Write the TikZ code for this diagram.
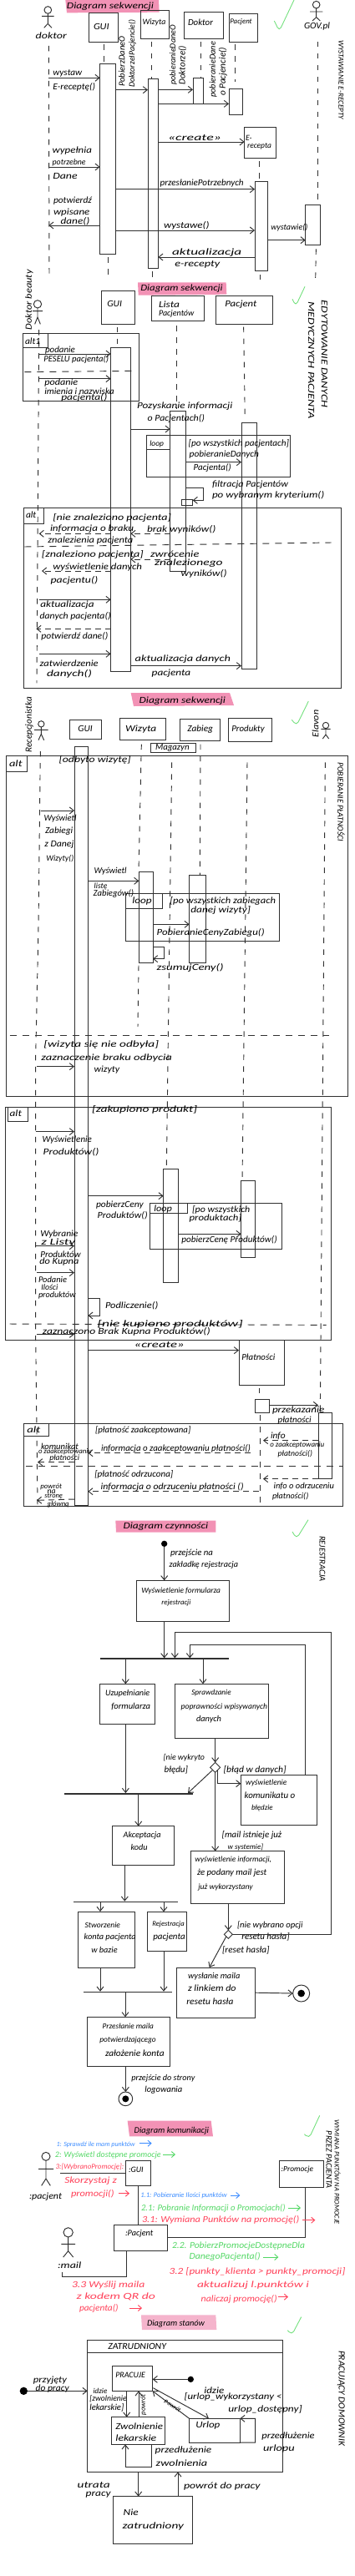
\documentclass[tikz,border=0pt]{standalone}
\usepackage{graphicx}
\usepackage{fontspec}
\setmainfont{Carlito}
\usetikzlibrary{arrows.meta,shapes.geometric}
\definecolor{lc}{HTML}{303030}
\definecolor{pinkhl}{HTML}{F292B5}
\definecolor{pinklt}{HTML}{F5B4CC}
\definecolor{chkgreen}{HTML}{74E07E}
\definecolor{cblue}{HTML}{3C8CFF}
\definecolor{cgreen}{HTML}{52D764}
\definecolor{cred}{HTML}{FF4058}
\tikzset{
  ln/.style={draw=lc,line width=.95pt},
  box/.style={ln,rectangle,inner sep=0pt,outer sep=0pt},
  frm/.style={box},
  barn/.style={rectangle,draw=lc,fill=lc,line width=.3pt,inner sep=0pt,outer sep=0pt},
  msg/.style={ln,-{Straight Barb[length=5pt,width=8pt]}},
  ret/.style={msg,dash pattern=on 7pt off 5pt},
  life/.style={ln,dash pattern=on 6.5pt off 7.5pt},
  divi/.style={ln,dash pattern=on 8pt off 7pt},
  txt/.style={inner sep=0pt,outer sep=0pt,text=black},
  chk/.style={draw=chkgreen,line width=.9pt,rounded corners=5pt},
  bmsg/.style={draw=cblue,line width=.9pt,-{Straight Barb[length=4pt,width=7pt]}},
  gmsg/.style={draw=cgreen,line width=.9pt,-{Straight Barb[length=4pt,width=7pt]}},
  rmsg/.style={draw=cred,line width=.9pt,-{Straight Barb[length=4pt,width=7pt]}},
}
\newcounter{lb}
\newsavebox\lbbox
\newcommand\fitw[2]{\sbox\lbbox{\fontsize{10.5}{12}\selectfont\itshape #2}%
  \pgfmathsetmacro\sx{#1/\the\wd\lbbox}\pgfmathsetmacro\sy{min(1.05,max(.72,\sx))}%
  \scalebox{\sx}[\sy]{\usebox\lbbox}}
\newcommand\lab[5][]{\stepcounter{lb}\pgfmathsetmacro\tw{(#3-#2)/3}%
  \node[txt,#1] (lb\thelb) at ({(#2+#3)/2},#4) {\fitw{\tw}{#5}};}
\newcommand\rlab[6][]{\stepcounter{lb}\pgfmathsetmacro\tw{abs(#5-#4)/3}%
  \node[txt,rotate=#2,#1] (lb\thelb) at (#3,{(#4+#5)/2}) {\fitw{\tw}{#6}};}
\newcommand\bx[6][]{\pgfmathsetmacro\bw{(#5-#3)/3}\pgfmathsetmacro\bh{(#6-#4)/3}%
  \node[box,minimum width=\bw pt,minimum height=\bh pt,#1] (#2) at ({(#3+#5)/2},{(#4+#6)/2}) {};}
% name cx cy r armY armHalf hip legdx legY
\newcommand\actor[9]{\pgfmathsetmacro\hd{2*#4/3}%
  \node[ln,circle,inner sep=0pt,outer sep=0pt,minimum size=\hd pt] (#1) at (#2,#3) {};
  \coordinate (#1-hip) at (#2,#7);
  \coordinate (#1-al) at ({#2-#6},#5);
  \coordinate (#1-ar) at ({#2+#6},#5);
  \coordinate (#1-ll) at ({#2-#8},#9);
  \coordinate (#1-lr) at ({#2+#8},#9);
  \draw[ln] (#1.south) -- (#1-hip) (#1-al) -- (#1-ar) (#1-ll) -- (#1-hip) -- (#1-lr);}
\newcommand\dotn[4]{\pgfmathsetmacro\hd{2*#4/3}%
  \node[circle,fill=black,inner sep=0pt,outer sep=0pt,minimum size=\hd pt] (#1) at (#2,#3) {};}
\newcommand\finalnode[5]{\pgfmathsetmacro\hd{2*#4/3}%
  \node[ln,circle,inner sep=0pt,outer sep=0pt,minimum size=\hd pt] (#1) at (#2,#3) {};
  \dotn{#1-i}{#2}{#3}{#5}}
\begin{document}
\begin{tikzpicture}[x=0.33333pt,y=-0.33333pt]
\useasboundingbox (0,0) rectangle (1272,9258);
%%%%% highlights
\fill[pinkhl] (235,0) -- (570,0) -- (572,44) -- (240,46) -- cycle;
\fill[pinkhl] (495,1015) -- (812,1015) -- (814,1058) -- (497,1061) -- cycle;
\fill[pinkhl] (470,2490) -- (825,2490) -- (840,2535) -- (480,2538) -- cycle;
\fill[pinkhl] (415,5465) -- (775,5465) -- (775,5507) -- (417,5507) -- cycle;
\fill[pinkhl] (458,7622) -- (758,7622) -- (765,7678) -- (465,7678) -- cycle;
\fill[pinklt] (507,8320) -- (775,8320) -- (778,8373) -- (510,8373) -- cycle;
%%%%% checks
\draw[chk] (985,75) -- (1003,112) -- (1056,0);
\draw[chk] (1050,1075) -- (1062,1100) -- (1095,1030);
\draw[chk] (1048,2587) -- (1065,2608) -- (1108,2520);
\draw[chk] (1050,5505) -- (1065,5530) -- (1107,5462);
\draw[chk] (1093,7670) -- (1110,7685) -- (1148,7603);
\draw[chk] (1033,8375) -- (1048,8392) -- (1082,8327);

%%%%% ---------- sequence 1
\lab{240}{552}{22}{Diagram sekwencji}
\actor{ac1}{172}{36}{13}{58}{22}{85}{14}{100}
\lab{128}{240}{128}{doktor}
\bx{g1}{320}{46}{424}{150}\lab{336}{392}{97}{GUI}
\bx{w1}{505}{37}{607}{138}\lab{512}{595}{80}{Wizyta}
\bx{d1b}{660}{43}{802}{138}\lab{675}{765}{80}{Doktor}
\bx{p1}{824}{50}{926}{151}\lab{826}{905}{78}{Pacjent}
\bx{e1b}{878}{458}{990}{569}\lab{882}{905}{495}{E-}\lab{888}{975}{525}{recepta}
\actor{ac2}{1136}{17}{13}{42}{23}{62}{14}{75}
\lab{1092}{1185}{95}{GOV.pl}
\rlab{-90}{1225}{145}{430}{WYSTAWIANIE E-RECEPTY}
\bx{a1}{359}{230}{415}{912}
\bx{a2}{531}{284}{568}{965}
\bx{a3}{693}{281}{730}{373}
\bx{a4}{822}{320}{871}{412}
\bx{a5}{915}{651}{962}{973}
\bx{a6}{1097}{736}{1150}{880}
\coordinate (L1) at (175,165);
\coordinate (L1e) at (177,1000);
\draw[life] (L1) -- (L1e);
\draw[life] (372,160) -- (372,0 |- a1.north);
\draw[life] (388,925) -- (388,990);
\draw[life] (545,150) -- (545,0 |- a2.north);
\draw[life] (548,975) -- (548,1005);
\draw[life] (721,150) -- (721,0 |- a3.north);
\draw[life] (845,160) -- (845,295);
\draw[life] (931,580) -- (931,0 |- a5.north);
\draw[life] (933,988) -- (933,1005);
\draw[life] (1140,150) -- (1140,0 |- a6.north);
\draw[life] (1135,895) -- (1133,1005);
\draw[msg] (L1 |- 0,280) -- (a1.west |- 0,280);
\lab{190}{295}{265}{wystaw}\lab{190}{342}{313}{E-receptę()}
\draw[msg] (a1.east |- 0,323) -- (a2.west |- 0,323);
\rlab{90}{437}{312}{130}{PobierzDaneO}
\rlab{90}{475}{315}{70}{DoktorzeIPacjencie()}
\draw[msg] (a2.east |- 0,322) -- (a3.west |- 0,322);
\rlab{90}{622}{305}{90}{pobieranieDaneO}
\rlab{90}{655}{305}{165}{Doktorze()}
\draw[msg] (a2.east |- 0,373) -- (a4.west |- 0,373);
\rlab{90}{765}{350}{150}{pobieranieDane}
\rlab{90}{800}{345}{170}{o Pacjencie()}
\draw[msg] (a2.east |- 0,510) -- (e1b.west |- 0,510);
\lab{603}{795}{495}{<<create>>}
\draw[msg] (L1 |- 0,600) -- (a1.west |- 0,600);
\lab{188}{330}{542}{wypełnia}\lab{188}{308}{585}{potrzebne}\lab{190}{278}{632}{Dane}
\draw[msg] (a1.east |- 0,680) -- (a5.west |- 0,680);
\lab{575}{875}{660}{przesłaniePotrzebnych}
\draw[msg] (a1.west |- 0,810) -- (L1 |- 0,810);
\lab{192}{330}{722}{potwierdź}\lab{192}{322}{765}{wpisane}\lab{218}{322}{795}{dane()}
\draw[msg] (a1.east |- 0,828) -- (a5.west |- 0,828);
\lab{588}{752}{812}{wystawe()}
\draw[msg] (a5.east |- 0,863) -- (a6.west |- 0,863);
\lab{973}{1105}{818}{wystawie()}
\draw[msg] (a5.west |- 0,924) -- (a2.east |- 0,924);
\lab{618}{868}{907}{aktualizacja}\lab{628}{790}{952}{e-recepty}

%%%%% ---------- sequence 2
\bx[frm]{f21}{82}{1198}{498}{1440}
\bx[frm]{f21t}{82}{1198}{173}{1250}
\bx[frm]{f22}{527}{1564}{1042}{1714}
\bx[frm]{f22t}{527}{1564}{610}{1614}
\bx[frm]{f23}{85}{1825}{1226}{2472}
\bx[frm]{f23t}{85}{1825}{158}{1882}
\bx{b1}{398}{1250}{469}{2413}
\bx{b2}{611}{1477}{668}{2052}
\bx{b3}{867}{1519}{923}{2403}
\coordinate (L2) at (140,1185);
\coordinate (L2e) at (132,2455);
\draw[life] (L2) -- (L2e);
\begin{scope}[shift={(0,900)}]
\lab{505}{800}{138}{Diagram sekwencji}
\rlab{-90}{1165}{180}{565}{EDYTOWANIE DANYCH}
\rlab{-90}{1118}{185}{605}{MEDYCZNYCH PACJENTA}
\rlab{90}{105}{285}{70}{Doktor beauty}
\actor{ac3}{135}{193}{14}{218}{18}{240}{10}{265}
\bx{g2}{364}{146}{484}{264}\lab{385}{438}{193}{GUI}
\bx{l2}{545}{164}{732}{252}\lab{570}{645}{193}{Lista}\lab{570}{697}{228}{Pacjentów}
\bx{p2}{775}{164}{978}{264}\lab{808}{922}{195}{Pacjent}
\lab{90}{145}{325}{alt1}
\draw[divi] (88,437) -- (490,433);
\draw[life] (422,275) -- (422,0 |- b1.north);
\draw[life] (633,270) -- (633,570);
\draw[life] (875,275) -- (880,610);
\draw[msg] (L2 |- 0,372) -- (b1.west |- 0,372);
\lab{162}{270}{358}{podanie}\lab{157}{390}{393}{PESELU pacjenta()}
\draw[msg] (L2 |- 0,461) -- (b1.west |- 0,461);
\lab{160}{280}{477}{podanie}\lab{160}{410}{505}{imienia i nazwiska}\lab{220}{385}{530}{pacjenta()}
\draw[msg] (b1.east |- 0,642) -- (b2.west |- 0,642);
\lab{492}{835}{560}{Pozyskanie informacji}\lab{530}{735}{605}{o Pacjentach()}
\lab{538}{588}{695}{loop}
\lab{677}{1038}{693}{[po wszystkich pacjentach]}
\lab{680}{930}{735}{pobieranieDanych}
\draw[msg] (b2.east |- 0,761) -- (b3.west |- 0,761);
\lab{695}{830}{780}{Pacjenta()}
\end{scope}
\begin{scope}[shift={(0,1680)}]
\bx{b2s}{653}{114}{692}{136}
\draw[msg] (b2.east |- 0,72) -- (730,72) -- (730,118) -- (b2s.east |- 0,118);
\lab{762}{1035}{62}{filtracja Pacjentów}\lab{762}{1165}{100}{po wybranym kryterium()}
\lab{93}{130}{170}{alt}
\lab{190}{615}{182}{[nie znaleziono pacjenta]}
\lab{180}{480}{222}{informacja o braku}
\draw[ret] (b1.west |- 0,238) -- (L2 |- 0,238);
\draw[ret] (b2.west |- 0,238) -- (b1.east |- 0,238);
\lab{528}{775}{222}{brak wyników()}
\lab{172}{478}{262}{znalezienia pacjenta}
\draw[divi] (88,285) -- (1190,270);
\lab{150}{515}{313}{[znaleziono pacjenta]}
\lab{540}{715}{312}{zwrócenie}\lab{555}{800}{343}{znalezionego}\lab{650}{815}{382}{wyników()}
\draw[ret] (b2.west |- 0,330) -- (b1.east |- 0,330);
\lab{190}{510}{358}{wyświetlenie danych}
\draw[ret] (b1.west |- 0,372) -- (150,372);
\lab{182}{352}{407}{pacjentu()}
\draw[msg] (140,475) -- (b1.west |- 0,475);
\lab{145}{338}{495}{aktualizacja}\lab{143}{398}{535}{danych pacjenta()}
\draw[ret] (b1.west |- 0,580) -- (130,580);
\lab{148}{388}{608}{potwierdź dane()}
\draw[msg] (140,670) -- (b1.west |- 0,670);
\lab{143}{353}{703}{zatwierdzenie}\lab{168}{330}{742}{danych()}
\draw[msg] (b1.east |- 0,713) -- (b3.west |- 0,713);
\lab{485}{828}{690}{aktualizacja danych}\lab{545}{685}{740}{pacjenta}
\end{scope}

%%%%% ---------- sequence 3
\bx[frm]{f31}{22}{2715}{1250}{3940}
\bx[frm]{f31t}{22}{2715}{97}{2773}
\bx[frm]{f32}{452}{3212}{1004}{3382}
\bx[frm]{f32t}{452}{3212}{582}{3265}
\bx[frm]{f33}{20}{3978}{1190}{4816}
\bx[frm]{f33t}{27}{3980}{100}{4030}
\bx[frm]{f34}{539}{4325}{1011}{4488}
\bx[frm]{f34t}{539}{4325}{672}{4360}
\bx[frm]{f35}{85}{5117}{1232}{5413}
\bx[frm]{f35t}{85}{5117}{176}{5160}
\bx{c1}{267}{2683}{316}{5410}
\bx{c2}{499}{3133}{549}{3460}
\bx{c3}{680}{3144}{740}{3460}
\bx{c4}{587}{4200}{641}{4608}
\bx{c5}{866}{4242}{917}{4518}
\bx{c6}{915}{5028}{966}{5078}
\bx{c7}{1143}{5078}{1191}{5315}
\bx{pl}{858}{4815}{1021}{4978}
\draw[life] (145,2700) -- (138,3330) -- (128,3800) -- (128,4800) -- (135,5410);
\draw[life] (508,2675) -- (498,3133);
\draw[life] (498,3470) -- (495,3690);
\draw[life] (617,2740) -- (598,4198);
\draw[life] (720,2675) -- (718,3144);
\draw[life] (888,2740) -- (870,4242);
\draw[life] (1168,2740) -- (1150,5078);
\draw[life] (930,4988) -- (930,5028);
\draw[life] (935,5085) -- (935,5410);
\begin{scope}[shift={(0,2490)}]
\lab{500}{810}{30}{Diagram sekwencji}
\rlab{90}{1133}{160}{62}{Elavon}
\actor{ac5}{1170}{117}{11}{130}{17}{150}{11}{165}
\rlab{90}{105}{215}{15}{Recepcjonistka}
\actor{ac4}{148}{112}{11}{133}{25}{148}{10}{170}
\bx{g3}{250}{96}{365}{166}\lab{280}{332}{128}{GUI}
\bx{w3}{430}{90}{594}{169}\lab{450}{562}{130}{Wizyta}
\bx{z3}{646}{95}{790}{172}\lab{673}{765}{132}{Zabieg}
\bx{pr3}{819}{91}{977}{175}\lab{832}{950}{132}{Produkty}
\bx{m3}{541}{181}{703}{215}\lab{558}{680}{198}{Magazyn}
\lab{33}{80}{255}{alt}
\lab{212}{470}{240}{[odbyto wizytę]}
\rlab{-90}{1225}{250}{535}{POBIERANIE PŁATNOŚCI}
\draw[msg] (148,423) -- (c1.west |- 0,423);
\lab{158}{275}{453}{Wyświetl}\lab{162}{262}{497}{Zabiegi}\lab{160}{265}{545}{z Danej}\lab{166}{265}{595}{Wizyty()}
\draw[msg] (c1.east |- 0,676) -- (c2.west |- 0,676);
\lab{338}{455}{642}{Wyświetl}\lab{338}{385}{695}{listę}\lab{335}{480}{722}{Zabiegów()}
\lab{475}{545}{750}{loop}
\lab{610}{990}{748}{[po wszystkich zabiegach}\lab{685}{900}{782}{danej wizyty]}
\end{scope}
\begin{scope}[shift={(0,3300)}]
\draw[msg] (c2.east |- 0,22) -- (c3.west |- 0,22);
\lab{563}{950}{53}{PobieranieCenyZabiegu()}
\draw[msg] (c2.east |- 0,104) -- (590,104) -- (590,146) -- (c2.east |- 0,146);
\lab{563}{803}{178}{zsumujCeny()}
\draw[divi] (35,420) -- (1183,420);
\lab{157}{570}{453}{[wizyta się nie odbyła]}
\lab{148}{618}{503}{zaznaczenie braku odbycia}\lab{338}{430}{545}{wizyty}
\draw[msg] (133,533) -- (c1.west |- 0,533);
\lab{35}{78}{700}{alt}
\lab{330}{708}{688}{[zakupiono produkt]}
\draw[msg] (128,767) -- (c1.west |- 0,767);
\lab{152}{330}{798}{Wyświetlenie}
\end{scope}
\begin{scope}[shift={(0,4110)}]
\lab{155}{355}{30}{Produktów()}
\draw[msg] (c1.east |- 0,188) -- (c4.west |- 0,188);
\lab{345}{515}{220}{pobierzCeny}\lab{350}{530}{258}{Produktów()}
\lab{553}{618}{236}{loop}
\lab{690}{898}{238}{[po wszystkich}\lab{680}{868}{268}{produktach]}
\draw[msg] (c4.east |- 0,325) -- (c5.west |- 0,325);
\lab{652}{995}{345}{pobierzCenę Produktów()}
\lab{145}{280}{325}{Wybranie}\lab{148}{270}{355}{z Listy}
\draw[msg] (130,368) -- (c1.west |- 0,368);
\lab{145}{290}{398}{Produktów}\lab{142}{283}{425}{do Kupna}
\draw[msg] (133,464) -- (c1.west |- 0,464);
\lab{138}{240}{490}{Podanie}\lab{148}{208}{516}{Ilości}\lab{138}{272}{545}{produktów}
\draw[msg] (c1.east |- 0,555) -- (358,555) -- (358,618) -- (c1.east |- 0,618);
\lab{378}{568}{583}{Podliczenie()}
\draw[divi] (35,648) -- (1172,652);
\lab{350}{872}{648}{[nie kupiono produktów]}
\draw[msg] (133,685) -- (c1.west |- 0,685);
\lab{153}{755}{677}{zaznaczono Brak Kupna Produktów()}
\draw[msg] (c1.east |- 0,743) -- (pl.west |- 0,743);
\lab{482}{662}{722}{<<create>>}
\lab{868}{988}{767}{Płatności}
\end{scope}
\begin{scope}[shift={(0,4920)}]
\draw[msg] (c6.east |- 0,130) -- (c7.west |- 0,130);
\lab{978}{1165}{150}{przekazanie}\lab{998}{1118}{185}{płatności}
\lab{97}{145}{218}{alt}
\lab{342}{685}{220}{[płatność zaakceptowana]}
\lab{147}{282}{278}{komunikat}\lab{138}{330}{298}{o zaakceptowaniu}\lab{178}{285}{322}{płatności}
\draw[ret] (c1.west |- 0,335) -- (135,335);
\lab{363}{900}{285}{informacja o zaakceptowaniu płatności()}
\draw[ret] (900,302) -- (c1.east |- 0,302);
\lab{972}{1025}{240}{info}\lab{970}{1165}{272}{o zaakceptowaniu}\lab{998}{1122}{305}{płatności()}
\draw[ret] (c7.west |- 0,257) -- (945,257);
\draw[divi] (92,350) -- (1230,350);
\lab{340}{622}{378}{[płatność odrzucona]}
\draw[ret] (c7.west |- 0,395) -- (945,395);
\lab{983}{1200}{420}{info o odrzuceniu}\lab{978}{1108}{458}{płatności()}
\lab{362}{875}{425}{informacja o odrzuceniu płatności ()}
\draw[ret] (930,440) -- (c1.east |- 0,440);
\lab{145}{222}{425}{powrót}\lab{170}{200}{441}{na}\lab{160}{225}{458}{stronę}\lab{170}{248}{488}{główną}
\draw[ret] (c1.west |- 0,468) -- (132,472);
%
\lab{443}{748}{567}{Diagram czynności}
\rlab{-90}{1158}{600}{765}{REJESTRACJA}
\dotn{s0}{590}{628}{11}
\lab{612}{765}{662}{przejście na}\lab{608}{855}{705}{zakładkę rejestracja}
\bx{fm}{490}{760}{822}{906}
\draw[msg] (s0) -- (590,0 |- fm.north);
\lab{508}{792}{797}{Wyświetlenie formularza}
\end{scope}

%%%%% ---------- activity
\begin{scope}[shift={(0,5730)}]
\lab{580}{685}{30}{rejestracji}
\bx[barn]{f1}{360}{229}{820}{231}
\bx{u}{357}{322}{556}{467}
\lab{378}{538}{355}{Uzupełnianie}\lab{400}{540}{402}{formularza}
\bx{sp}{629}{322}{965}{517}
\lab{688}{830}{355}{Sprawdzanie}\lab{650}{960}{405}{poprawności wpisywanych}\lab{705}{795}{448}{danych}
\node[ln,diamond,aspect=1,inner sep=0pt,outer sep=0pt,minimum size=12pt] (d1) at (773,622) {};
\lab{587}{735}{587}{[nie wykryto}\lab{590}{675}{632}{błędu]}
\lab{803}{1028}{632}{[błąd w danych]}
\bx[barn]{f2}{232}{714}{690}{716}
\bx{k}{865}{648}{1138}{828}
\lab{882}{1030}{678}{wyświetlenie}\lab{878}{1060}{722}{komunikatu o}\lab{903}{980}{768}{błędzie}
\draw[msg] (590,0 |- fm.south) -- (590,0 |- f1.north);
\draw[msg] (451,0 |- f1.south) -- (451,0 |- u.north);
\draw[msg] (729,0 |- f1.south) -- (729,0 |- sp.north);
\draw[msg] (773,0 |- sp.south) -- (d1.north);
\draw[msg] (d1.south west) -- (675,0 |- f2.north);
\draw[msg] (451,0 |- u.south) -- (451,0 |- f2.north);
\draw[msg] (d1.south east) |- (k.west |- 0,680);
\end{scope}
\begin{scope}[shift={(0,6480)}]
\bx{ak}{403}{83}{625}{223}
\lab{443}{578}{115}{Akceptacja}\lab{470}{530}{160}{kodu}
\lab{797}{1012}{115}{[mail istnieje już}\lab{818}{945}{158}{w systemie]}
\bx{m}{686}{173}{1021}{360}
\lab{700}{975}{205}{wyświetlenie informacji,}\lab{708}{958}{250}{że podany mail jest}\lab{712}{908}{302}{już wykorzystany}
\bx[barn]{f3}{263}{353}{636}{355}
\bx{st}{281}{390}{483}{591}
\lab{305}{432}{438}{Stworzenie}\lab{302}{488}{483}{konta pacjenta}\lab{328}{422}{528}{w bazie}
\bx{re}{529}{391}{671}{533}
\lab{547}{662}{435}{Rejestracja}\lab{550}{665}{482}{pacjenta}
\bx[barn]{f4}{300}{677}{614}{679}
\node[ln,diamond,aspect=1,inner sep=0pt,outer sep=0pt,minimum size=10pt] (d2) at (820,472) {};
\lab{852}{1088}{440}{[nie wybrano opcji}\lab{868}{1040}{482}{resetu hasła]}
\lab{798}{968}{528}{[reset hasła]}
\bx{wm}{633}{591}{917}{772}
\lab{675}{862}{622}{wysłanie maila}\lab{675}{848}{665}{z linkiem do}\lab{670}{838}{712}{resetu hasła}
\finalnode{e1}{1082}{684}{30}{13}
\bx{pm}{313}{769}{611}{946}
\lab{368}{552}{803}{Przesłanie maila}
\draw[msg] (773,0 |- d1.south) -- (773,0 |- m.north);
\draw[msg] (497,0 |- f2.south) -- (497,0 |- ak.north);
\draw[msg] (448,0 |- ak.south) -- (448,0 |- f3.north);
\draw[msg] (360,0 |- f3.south) -- (360,0 |- st.north);
\draw[msg] (588,0 |- f3.south) -- (588,0 |- re.north);
\draw[msg] (360,0 |- st.south) -- (360,0 |- f4.north);
\draw[msg] (588,0 |- re.south) -- (588,0 |- f4.north);
\draw[msg] (450,0 |- f4.south) -- (450,0 |- pm.north);
\draw[msg] (820,0 |- m.south) -- (d2.north);
\draw[msg] (d2.south west) -- (752,0 |- wm.north);
\draw[msg] (wm.east) -- (e1.west);
\end{scope}
\draw[msg] (d2.east) -- (1190,0 |- d2.east) -- (1190,5865) -- (628,5865) -- (628,0 |- f1.north);
\draw[msg] (1095,0 |- k.north) -- (1095,5912) -- (682,5912) -- (682,0 |- f1.north);

%%%%% ---------- communication
\begin{scope}[shift={(0,7290)}]
\lab{358}{560}{42}{potwierdzającego}\lab{378}{590}{88}{założenie konta}
\finalnode{e2}{451}{253}{25}{12}
\draw[msg] (451,0 |- pm.south) -- (e2.north);
\lab{472}{700}{180}{przejście do strony}\lab{520}{655}{222}{logowania}
\lab{482}{750}{368}{Diagram komunikacji}
\rlab{-90}{1212}{328}{705}{WYMIANA PUNKTÓW NA PROMOCJE}
\rlab{-90}{1182}{368}{575}{PRZEZ PACJENTA}
\actor{ac6}{165}{460}{15}{505}{27}{540}{16}{565}
\lab{105}{222}{604}{:pacjent}
\coordinate (pl1) at (216,521);
\lab[text=cblue]{203}{485}{417}{1: Sprawdź ile mam punktów}
\coordinate (ba1) at (500,413); \coordinate (ba2) at (545,413);
\draw[bmsg] (ba1) -- (ba2);
\lab[text=cgreen]{198}{578}{455}{2: Wyświetl dostępne promocje}
\coordinate (ga1) at (585,453); \coordinate (ga2) at (630,453);
\draw[gmsg] (ga1) -- (ga2);
\lab[text=cred]{200}{445}{497}{3:[WybranoPromocję]:}
\lab[text=cred]{232}{420}{548}{Skorzystaj z}
\lab[text=cred]{255}{410}{596}{promocji()}
\coordinate (ra1) at (425,593); \coordinate (ra2) at (465,593);
\draw[rmsg] (ra1) -- (ra2);
\bx{gu}{450}{474}{542}{566}\lab{462}{515}{508}{:GUI}
\bx{pro}{1002}{476}{1162}{570}\lab{1010}{1125}{508}{:Promocje}
\bx{pc}{408}{706}{600}{798}\lab{450}{550}{738}{:Pacjent}
\draw[ln] (pl1) -- (gu.west |- pl1);
\draw[ln] (497,0 |- gu.south) -- (497,0 |- pc.north);
\draw[ln] (pc.east |- 0,750) -- (1097,750) -- (1097,0 |- pro.south);
\lab[text=cblue]{505}{815}{600}{1.1: Pobieranie Ilości punktów}
\coordinate (bb1) at (828,600); \coordinate (bb2) at (862,600);
\draw[bmsg] (bb1) -- (bb2);
\lab[text=cgreen]{507}{1025}{645}{2.1: Pobranie Informacji o Promocjach()}
\coordinate (gb1) at (1035,645); \coordinate (gb2) at (1080,645);
\draw[gmsg] (gb1) -- (gb2);
\lab[text=cred]{510}{1075}{688}{3.1: Wymiana Punktów na promocję()}
\coordinate (rb1) at (1087,689); \coordinate (rb2) at (1132,689);
\draw[rmsg] (rb1) -- (rb2);
\actor{ac7}{245}{733}{17}{775}{25}{800}{18}{822}
\end{scope}
\begin{scope}[shift={(0,8040)}]
\lab{207}{292}{102}{:mail}
\coordinate (mf) at (222,125);
\draw[ln] (mf) |- (453,143) -- (453,0 |- pc.south);
\lab[text=cgreen]{618}{1095}{32}{2.2. PobierzPromocjeDostępneDla}
\lab[text=cgreen]{680}{935}{70}{DanegoPacjenta()}
\coordinate (gc1) at (945,72); \coordinate (gc2) at (1000,72);
\draw[gmsg] (gc1) -- (gc2);
\lab[text=cred]{608}{1240}{125}{3.2 [punkty\_klienta > punkty\_promocji]}
\lab[text=cred]{708}{1110}{172}{aktualizuj l.punktów i}
\lab[text=cred]{722}{995}{222}{naliczaj promocję()}
\coordinate (rc1) at (1000,215); \coordinate (rc2) at (1035,215);
\draw[rmsg] (rc1) -- (rc2);
\lab[text=cred]{258}{520}{172}{3.3 Wyślij maila}
\lab[text=cred]{275}{558}{213}{z kodem QR do}
\lab[text=cred]{285}{425}{255}{pacjenta()}
\coordinate (rd1) at (465,255); \coordinate (rd2) at (510,255);
\draw[rmsg] (rd1) -- (rd2);
%%%%% ---------- state
\lab{528}{735}{310}{Diagram stanów}
\bx{zt}{314}{369}{1015}{844}
\draw[ln] (zt.west |- 0,415) -- (zt.east |- 0,415);
\lab{388}{597}{392}{ZATRUDNIONY}
\dotn{s1}{85}{553}{14}
\draw[msg] (s1) -- (zt.west |- s1);
\lab{120}{240}{515}{przyjęty}\lab{128}{248}{545}{do pracy}
\bx{pcu}{402}{464}{548}{553}\lab{415}{522}{497}{PRACUJE}
\dotn{s2}{685}{511}{11}
\draw[msg] (s2) -- (pcu.east |- s2);
\lab{335}{385}{553}{idzie}\lab{322}{455}{582}{[zwolnienie}\lab{322}{445}{612}{lekarskie]}
\bx{zw}{400}{647}{592}{745}
\lab{415}{585}{680}{Zwolnienie}\lab{415}{562}{722}{lekarskie}
\bx{ur}{680}{652}{862}{738}
\lab{703}{790}{678}{Urlop}
\draw[msg] (455,0 |- pcu.south) -- (455,0 |- zw.north);
\draw[msg] (498,0 |- zw.north) -- (498,0 |- pcu.south);
\rlab{90}{515}{640}{565}{powrót}
\draw[msg] (550,542) -- (750,0 |- ur.north);
\lab{733}{805}{550}{idzie}\lab{662}{1012}{575}{[urlop\_wykorzystany <}\lab{820}{1085}{620}{urlop\_dostępny]}
\draw[msg] (ur.north west) -- (pcu.south east);
\rlab{-35}{620}{575}{640}{powrót}
\rlab{-90}{1225}{408}{750}{PRACUJĄCY DOMOWNIK}
\draw[msg] (ur.south east) -- (917,738) -- (917,652) -- (ur.north east);
\lab{940}{1130}{715}{przedłużenie}\lab{945}{1058}{760}{urlopu}
\draw[msg] (545,0 |- zw.south) -- (545,826) -- (450,826) -- (450,0 |- zw.south);
\lab{557}{760}{768}{przedłużenie}\lab{560}{745}{813}{zwolnienia}
\bx{nz}{405}{932}{690}{1102}
\lab{443}{497}{990}{Nie}\lab{440}{660}{1040}{zatrudniony}
\draw[msg] (497,0 |- zt.south) -- (497,0 |- nz.north);
\draw[msg] (639,0 |- nz.north) -- (639,0 |- zt.south);
\lab{278}{395}{890}{utrata}\lab{308}{398}{925}{pracy}
\lab{660}{935}{897}{powrót do pracy}
\end{scope}
\end{tikzpicture}
\end{document}
